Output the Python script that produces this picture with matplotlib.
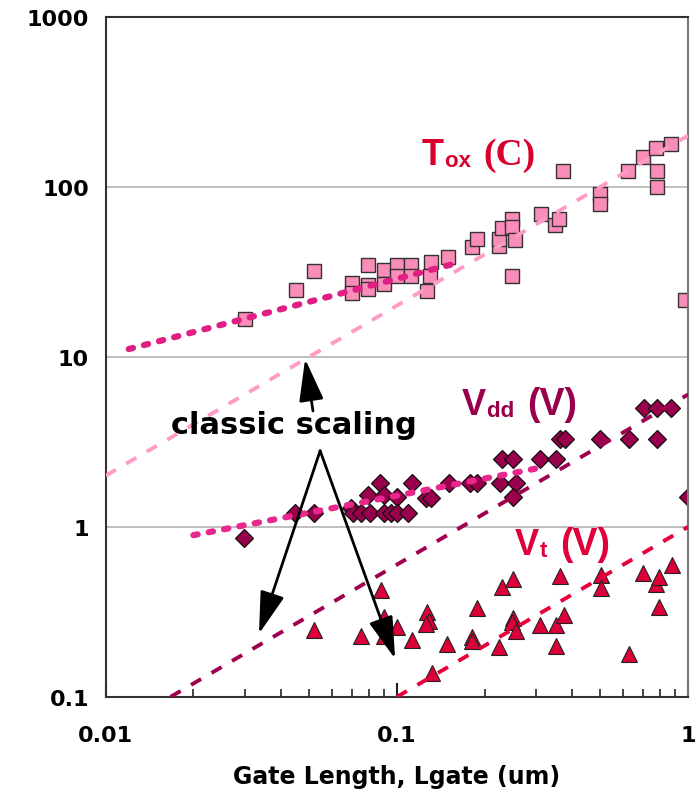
import numpy as np
import matplotlib.pyplot as plt
from matplotlib.ticker import LogLocator, NullFormatter
from matplotlib.transforms import offset_copy

# gate oxide thickness (square markers)
tox_x = [0.030, 0.0452, 0.0521, 0.0703, 0.0703, 0.0798, 0.0798, 0.0798, 0.090, 0.090,
         0.1004, 0.1004, 0.112, 0.112, 0.131, 0.130, 0.127, 0.150, 0.1816, 0.189,
         0.225, 0.225, 0.230, 0.249, 0.249, 0.255, 0.249, 0.313, 0.350, 0.361,
         0.372, 0.499, 0.499, 0.622, 0.701, 0.776, 0.783, 0.783, 0.875, 0.977]
tox_y = [16.7, 24.8, 32.0, 27.2, 23.8, 34.8, 26.5, 25.1, 32.5, 26.9,
         34.8, 30.0, 34.8, 30.0, 36.2, 30.0, 24.4, 38.7, 44.4, 49.5,
         45.0, 49.5, 57.4, 64.9, 58.2, 48.8, 30.0, 69.4, 59.8, 64.9,
         124, 91, 79.4, 124, 150, 170, 124, 100, 179, 21.6]

# supply voltage (diamonds)
vdd_x = [0.0298, 0.0448, 0.0521, 0.0695, 0.0706, 0.0750, 0.0797, 0.0809, 0.0873, 0.0900,
         0.0900, 0.0955, 0.100, 0.100, 0.1095, 0.113, 0.1256, 0.1313, 0.1506, 0.178,
         0.189, 0.226, 0.230, 0.2505, 0.256, 0.2505, 0.311, 0.351, 0.362, 0.379,
         0.498, 0.625, 0.785, 0.706, 0.785, 0.873, 1.0]
vdd_y = [0.854, 1.2, 1.2, 1.29, 1.2, 1.2, 1.54, 1.2, 1.8, 1.54,
         1.2, 1.2, 1.5, 1.2, 1.2, 1.8, 1.48, 1.48, 1.8, 1.8,
         1.8, 1.8, 2.5, 2.5, 1.8, 1.5, 2.5, 2.5, 3.3, 3.3,
         3.3, 3.3, 3.3, 5.0, 5.0, 5.0, 1.5]

# threshold voltage (triangles)
vt_x = [0.0521, 0.075, 0.088, 0.090, 0.090, 0.100, 0.113, 0.127, 0.129, 0.126,
        0.132, 0.149, 0.181, 0.181, 0.189, 0.225, 0.230, 0.250, 0.250, 0.249,
        0.256, 0.311, 0.351, 0.351, 0.376, 0.362, 0.501, 0.501, 0.625, 0.700,
        0.778, 0.794, 0.794, 0.877]
vt_y = [0.247, 0.227, 0.424, 0.296, 0.227, 0.258, 0.216, 0.316, 0.279, 0.267,
        0.139, 0.206, 0.225, 0.212, 0.334, 0.197, 0.444, 0.492, 0.289, 0.276,
        0.243, 0.266, 0.264, 0.199, 0.305, 0.515, 0.519, 0.434, 0.178, 0.537,
        0.464, 0.508, 0.339, 0.595]

# trend lines (end points)
tox_fit_x = [0.012, 0.153]
tox_fit_y = [11.1, 34.8]
vdd_fit_x = [0.020, 0.321]
vdd_fit_y = [0.893, 2.25]

# classic scaling lines
tox_cls_x = [0.01, 1.0]
tox_cls_y = [2.0, 200.0]
vdd_cls_x = [0.0167, 1.0]
vdd_cls_y = [0.1, 6.0]
vt_cls_x = [0.1, 1.0]
vt_cls_y = [0.1, 1.0]

fig = plt.figure(figsize=(7, 8.04), dpi=100)
ax = fig.add_axes([0.151, 0.132, 0.832, 0.846])

ax.set_xscale('log')
ax.set_yscale('log')
ax.set_xlim(0.01, 1)
ax.set_ylim(0.1, 1000)

ax.set_xticks([0.01, 0.1, 1])
ax.set_xticklabels(['0.01', '0.1', '1'])
ax.xaxis.set_minor_locator(LogLocator(base=10, subs=np.arange(2, 10)))
ax.xaxis.set_minor_formatter(NullFormatter())
ax.set_yticks([0.1, 1, 10, 100, 1000])
ax.set_yticklabels(['0.1', '1', '10', '100', '1000'])
ax.yaxis.set_minor_locator(plt.NullLocator())
ax.tick_params(axis='x', which='major', direction='in', length=10, width=1.5,
               color='#222222', labelsize=16, pad=20)
ax.tick_params(axis='x', which='minor', direction='in', length=5.5, width=1.2,
               color='#222222')
ax.tick_params(axis='y', which='both', length=0, labelsize=16, pad=12)
for lab in ax.get_xticklabels() + ax.get_yticklabels():
    lab.set_fontweight('bold')

ax.set_xlabel('Gate Length, Lgate (um)', fontsize=17, fontweight='bold', labelpad=14)

for s in ['left', 'bottom', 'top']:
    ax.spines[s].set_color('#333333')
    ax.spines[s].set_linewidth(1.5)
ax.spines['right'].set_color('#777777')
ax.spines['right'].set_linewidth(1.5)

for yv in [1, 10, 100]:
    ax.axhline(yv, color='#b4b4b4', lw=1.2, zorder=0)

ax.plot(tox_x, tox_y, 's', ms=10.5, mfc='#f98cb9', mec='#333333', mew=1.0, zorder=2)
ax.plot(vdd_x, vdd_y, 'D', ms=9.5, mfc='#99004c', mec='#111111', mew=0.9, zorder=2)
ax.plot(vt_x, vt_y, '^', ms=11, mfc='#dc0038', mec='#222222', mew=0.8, zorder=2)

dot = dict(lw=4.5, ls=(0, (0.7, 1.8)), dash_capstyle='round', zorder=3)
ax.plot(tox_fit_x, tox_fit_y, color='#e01f84', **dot)
ax.plot(vdd_fit_x, vdd_fit_y, color='#e8288c', **dot)

dash = dict(lw=2.8, ls=(0, (3, 3.1)), zorder=3)
ax.plot(tox_cls_x, tox_cls_y, color='#ff9cc6', **dash)
ax.plot(vdd_cls_x, vdd_cls_y, color='#a00050', **dash)
ax.plot(vt_cls_x, vt_cls_y, color='#e8003a', **dash)

# labels built from pieces (main letter, subscript, unit)
renderer = fig.canvas.get_renderer()

def label(x, y, parts, color):
    dx = 0
    for txt, dy, size, fam in parts:
        tr = offset_copy(ax.transData, fig=fig, x=dx, y=dy, units='dots')
        t = ax.text(x, y, txt, transform=tr, fontsize=size, fontweight='bold',
                    family=fam, color=color, va='baseline', ha='left', zorder=5)
        bb = t.get_window_extent(renderer)
        dx += bb.width + (6 if txt.endswith(' ') else 1)

label(0.122, 136, [('T', 0, 26, 'Liberation Sans'), ('ox ', -2, 16, 'Liberation Sans'),
                   ('(C)', 0, 27, 'Liberation Serif')], '#d9002e')
label(0.1675, 4.62, [('V', 0, 26, 'Liberation Sans'), ('dd ', -2, 16, 'Liberation Sans'),
                     ('(V)', 0, 27, 'Liberation Sans')], '#99004c')
label(0.2545, 0.694, [('V', 0, 26, 'Liberation Sans'), ('t ', -2, 16, 'Liberation Sans'),
                      ('(V)', 0, 27, 'Liberation Sans')], '#e0003a')

ax.text(0.0444, 4.0, 'classic scaling', fontsize=22, fontweight='bold',
        ha='center', va='center', zorder=5)

arrow = dict(arrowstyle='-|>,head_length=1.3,head_width=0.38', color='black',
             lw=2, mutation_scale=20, shrinkA=0, shrinkB=0)
ax.annotate('', xy=(0.0484, 9.7), xytext=(0.0515, 4.8), arrowprops=arrow, zorder=6)
ax.annotate('', xy=(0.0336, 0.235), xytext=(0.0545, 2.8), arrowprops=arrow, zorder=6)
ax.annotate('', xy=(0.0986, 0.1675), xytext=(0.0545, 2.8), arrowprops=arrow, zorder=6)

fig.savefig('out.png', dpi=100)
